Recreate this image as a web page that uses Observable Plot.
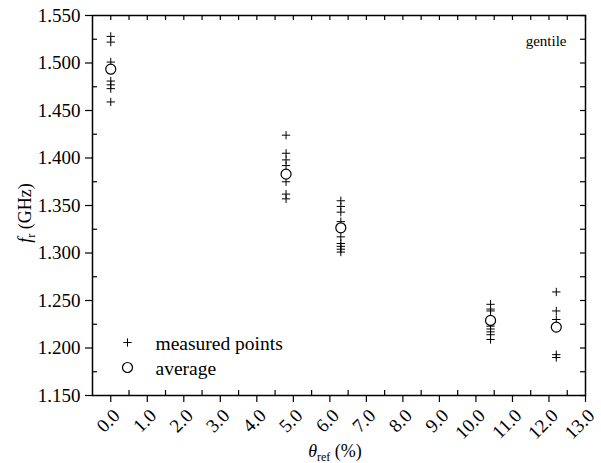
<!DOCTYPE html>
<html>
<head>
<meta charset="utf-8">
<script src="https://cdn.jsdelivr.net/npm/d3@7"></script>
<script src="https://cdn.jsdelivr.net/npm/@observablehq/plot@0.6"></script>
<style>
  html, body { margin: 0; padding: 0; background: #fff; }
</style>
</head>
<body>
<div id="chart"></div>
<script>
// ---- data ----
const thetaLevels = [0.0, 4.8, 6.3, 10.4, 12.2];
const measured0 = [1.528, 1.522, 1.501, 1.481, 1.477, 1.473, 1.459];
const measured1 = [1.424, 1.405, 1.398, 1.392, 1.375, 1.362, 1.357];
const measured2 = [1.355, 1.349, 1.343, 1.333, 1.317, 1.310, 1.307, 1.304, 1.301];
const measured3 = [1.246, 1.241, 1.239, 1.223, 1.220, 1.217, 1.214, 1.209];
const measured4 = [1.259, 1.239, 1.230, 1.193, 1.190];
const averages = [1.4935, 1.383, 1.3265, 1.229, 1.222];

const xTicks = [0, 1, 2, 3, 4, 5, 6, 7, 8, 9, 10, 11, 12, 13];
const yTicks = [1.15, 1.20, 1.25, 1.30, 1.35, 1.40, 1.45, 1.50, 1.55];

// ---- derived tables ----
const measuredSets = [measured0, measured1, measured2, measured3, measured4];
const points = measuredSets.flatMap((vals, i) => vals.map(v => ({theta: thetaLevels[i], f: v})));
const avgPoints = averages.map((v, i) => ({theta: thetaLevels[i], f: v}));
const xMinor = xTicks.slice(0, -1).map(d => d + 0.5);
const xAll = xTicks.concat(xMinor);
const yMinor = yTicks.slice(0, -1).map(d => d + 0.025);
const yAll = yTicks.concat(yMinor);

const W = 601, H = 463;
const mL = 92, mR = 16, mT = 15, mB = 68;
const pW = W - mL - mR, pH = H - mT - mB;
const inTick = 5, outTick = 7;

const chart = Plot.plot({
  width: W, height: H,
  marginLeft: mL, marginRight: mR, marginTop: mT, marginBottom: mB,
  x: {domain: [-0.5, 13], axis: null},
  y: {domain: [1.15, 1.55], axis: null},
  style: {fontFamily: "'Liberation Serif', 'DejaVu Serif', serif", background: "white", color: "black"},
  marks: [
    // left: major outward, minor inward
    Plot.tickY(yTicks, {y: d => d, insetLeft: -outTick, insetRight: pW, stroke: "black", strokeWidth: 1.2}),
    Plot.tickY(yMinor, {y: d => d, insetRight: pW - inTick, stroke: "black", strokeWidth: 1.2}),
    // right: all inward
    Plot.tickY(yAll, {y: d => d, insetLeft: pW - inTick, stroke: "black", strokeWidth: 1.2}),
    // bottom: major outward, minor inward
    Plot.tickX(xTicks, {x: d => d, insetTop: pH, insetBottom: -outTick, stroke: "black", strokeWidth: 1.2}),
    Plot.tickX(xMinor, {x: d => d, insetTop: pH - inTick, stroke: "black", strokeWidth: 1.2}),
    // top: all inward
    Plot.tickX(xAll, {x: d => d, insetBottom: pH - inTick, stroke: "black", strokeWidth: 1.2}),
    // tick labels
    Plot.text(yTicks, {y: d => d, frameAnchor: "left", dx: -12, textAnchor: "end", text: d => d.toFixed(3), fontSize: 19, fill: "black"}),
    Plot.text(xTicks, {x: d => d, frameAnchor: "bottom", dx: 6, dy: 17, rotate: -45, textAnchor: "end", lineAnchor: "middle", text: d => d.toFixed(1), fontSize: 19, fill: "black"}),
    Plot.frame({stroke: "black", strokeWidth: 1.5}),
    // data
    Plot.dot(points, {x: "theta", y: "f", symbol: "plus", r: 2.8, stroke: "black", strokeWidth: 1}),
    Plot.dot(avgPoints, {x: "theta", y: "f", r: 5, fill: "white", stroke: "black", strokeWidth: 1.2}),
    // legend
    Plot.dot([0], {frameAnchor: "bottom-left", dx: 35, dy: -53, symbol: "plus", r: 2.8, stroke: "black", strokeWidth: 1}),
    Plot.dot([0], {frameAnchor: "bottom-left", dx: 35, dy: -28, r: 5, fill: "white", stroke: "black", strokeWidth: 1.2}),
    Plot.text(["measured points"], {frameAnchor: "bottom-left", dx: 63, dy: -52, textAnchor: "start", lineAnchor: "middle", fontSize: 19.5, fill: "black"}),
    Plot.text(["average"], {frameAnchor: "bottom-left", dx: 63, dy: -27, textAnchor: "start", lineAnchor: "middle", fontSize: 19.5, fill: "black"}),
    Plot.text(["gentile"], {frameAnchor: "top-right", dx: -19, dy: 26, textAnchor: "end", lineAnchor: "middle", fontSize: 15, fill: "black"})
  ]
});

// axis titles with subscripts
const svg = d3.select(chart);
const fam = "'Liberation Serif', 'DejaVu Serif', serif";
const yl = svg.append("text")
  .attr("transform", "translate(31,213) rotate(-90)")
  .attr("text-anchor", "middle")
  .attr("font-family", fam).attr("font-size", 18).attr("fill", "black");
yl.append("tspan").attr("font-style", "italic").text("f");
yl.append("tspan").attr("font-size", 12).attr("dy", 4).text("r");
yl.append("tspan").attr("dy", -4).text(" (GHz)");

const xl = svg.append("text")
  .attr("transform", "translate(335,457)")
  .attr("text-anchor", "middle")
  .attr("font-family", fam).attr("font-size", 18).attr("fill", "black");
xl.append("tspan").attr("font-style", "italic").text("θ");
xl.append("tspan").attr("font-size", 12).attr("dy", 4).text("ref");
xl.append("tspan").attr("dy", -4).text(" (%)");

document.getElementById("chart").appendChild(chart);
</script>
</body>
</html>
